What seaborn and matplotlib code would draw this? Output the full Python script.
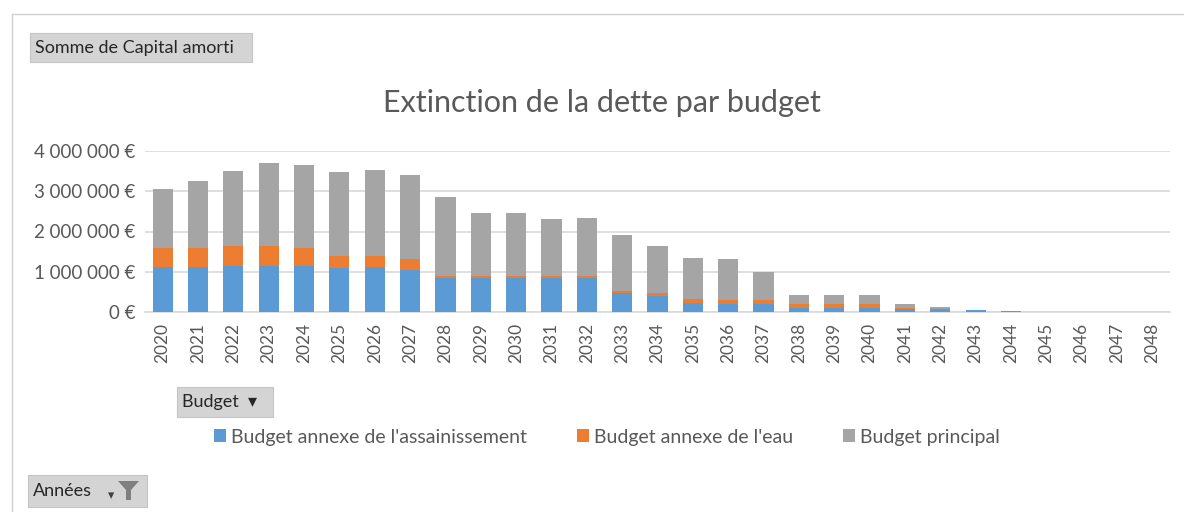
import numpy as np
import pandas as pd
import seaborn as sns
import matplotlib.pyplot as plt
from matplotlib.lines import Line2D
from matplotlib.patches import Patch, Polygon, Rectangle
from matplotlib.ticker import FuncFormatter

# Capital amorti par budget et par année (en €)
years = [str(y) for y in range(2020, 2049)]
assainissement = [1120000, 1120000, 1150000, 1150000, 1150000, 1100000, 1120000, 1050000,
                  840000, 840000, 840000, 840000, 840000, 460000, 390000, 230000, 210000,
                  210000, 100000, 90000, 90000, 80000, 70000, 50000, 20000, 0, 0, 0, 0]
eau = [460000, 480000, 500000, 500000, 430000, 280000, 280000, 260000,
       65000, 65000, 65000, 65000, 65000, 60000, 75000, 90000, 90000,
       90000, 110000, 120000, 120000, 10000, 0, 0, 0, 0, 0, 0, 0]
principal = [1470000, 1650000, 1860000, 2050000, 2060000, 2090000, 2140000, 2100000,
             1945000, 1555000, 1555000, 1395000, 1425000, 1390000, 1165000, 1020000, 1010000,
             690000, 210000, 210000, 210000, 100000, 50000, 10000, 10000, 0, 0, 0, 0]
series_names = ["Budget annexe de l'assainissement", "Budget annexe de l'eau", "Budget principal"]
colors = ["#5b9bd5", "#ed7d31", "#a5a5a5"]

plt.rcParams['font.family'] = ['Lato', 'DejaVu Sans']

W, H = 1184, 512


def fx(px):
    return px / W


def fy(py):
    return 1 - py / H


def euro(v, pos):
    return f"{int(v):,}".replace(",", " ") + " €"


def button(fig, x0, y0, x1, y1, label):
    """Grey field button of the pivot chart (pixel coords, top-left origin)."""
    fig.add_artist(Rectangle((fx(x0), fy(y1)), fx(x1) - fx(x0), fy(y0) - fy(y1),
                             facecolor='#d4d4d4', edgecolor='#c4c4c4', linewidth=0.8,
                             transform=fig.transFigure))
    fig.text(fx(x0 + 5), fy((y0 + y1) / 2), label, fontsize=13, va='center',
             color='#262626')


def main():
    df = pd.DataFrame({'annee': years, 'a': assainissement, 'e': eau, 'p': principal})
    df['cum_e'] = df['a'] + df['e']
    df['cum_p'] = df['cum_e'] + df['p']

    fig = plt.figure(figsize=(W / 100, H / 100), dpi=100)
    ax = fig.add_axes([fx(145), fy(312), fx(1170) - fx(145), fy(151) - fy(312)])

    # stacked bars: draw cumulative totals from the top down
    for col, c in zip(['cum_p', 'cum_e', 'a'], colors[::-1]):
        sns.barplot(data=df, x='annee', y=col, color=c, width=0.57,
                    saturation=1, ax=ax, zorder=3)

    ax.set_ylim(0, 4000000)
    ax.set_yticks(np.arange(0, 4000001, 1000000))
    ax.yaxis.set_major_formatter(FuncFormatter(euro))
    ax.grid(axis='y', color='#d9d9d9', linewidth=1.2, zorder=0)
    ax.set_xlabel('')
    ax.set_ylabel('')
    for s in ['top', 'right', 'left']:
        ax.spines[s].set_visible(False)
    ax.spines['bottom'].set_color('#d9d9d9')
    ax.spines['bottom'].set_linewidth(1.2)
    ax.tick_params(axis='both', length=0, labelcolor='#595959')
    ax.tick_params(axis='y', pad=7, labelsize=13.5)
    ax.tick_params(axis='x', pad=8, labelrotation=90, labelsize=12.5)

    fig.text(fx(602), fy(103), "Extinction de la dette par budget",
             ha='center', va='center', fontsize=22, color='#595959')

    handles = [Patch(facecolor=c) for c in colors]
    fig.legend(handles, series_names, loc='center', ncol=3,
               bbox_to_anchor=(fx(607), fy(437)), frameon=False,
               fontsize=14, labelcolor='#595959', handlelength=0.6,
               handleheight=0.6, handletextpad=0.25, columnspacing=2.6)

    # field buttons of the pivot chart
    button(fig, 30, 33, 252, 62, "Somme de Capital amorti")
    button(fig, 177, 387, 273, 417, "Budget  ▾")
    button(fig, 28, 475, 147, 507, "Années")
    funnel = Polygon([[fx(118), fy(481)], [fx(139), fy(481)], [fx(131), fy(490)],
                      [fx(131), fy(500)], [fx(126), fy(500)], [fx(126), fy(490)]],
                     closed=True, facecolor='#7f7f7f', edgecolor='none',
                     transform=fig.transFigure)
    fig.add_artist(funnel)
    fig.text(fx(108), fy(495), "▾", fontsize=9, va='center', color='#404040')

    # outer frame of the chart
    fig.add_artist(Line2D([fx(12), 1], [fy(14), fy(14)],
                          color='#d0d0d0', linewidth=1, transform=fig.transFigure))
    fig.add_artist(Line2D([fx(12), fx(12)], [0, fy(14)],
                          color='#d0d0d0', linewidth=1, transform=fig.transFigure))

    fig.savefig('out.png', dpi=100)


if __name__ == "__main__":
    main()
